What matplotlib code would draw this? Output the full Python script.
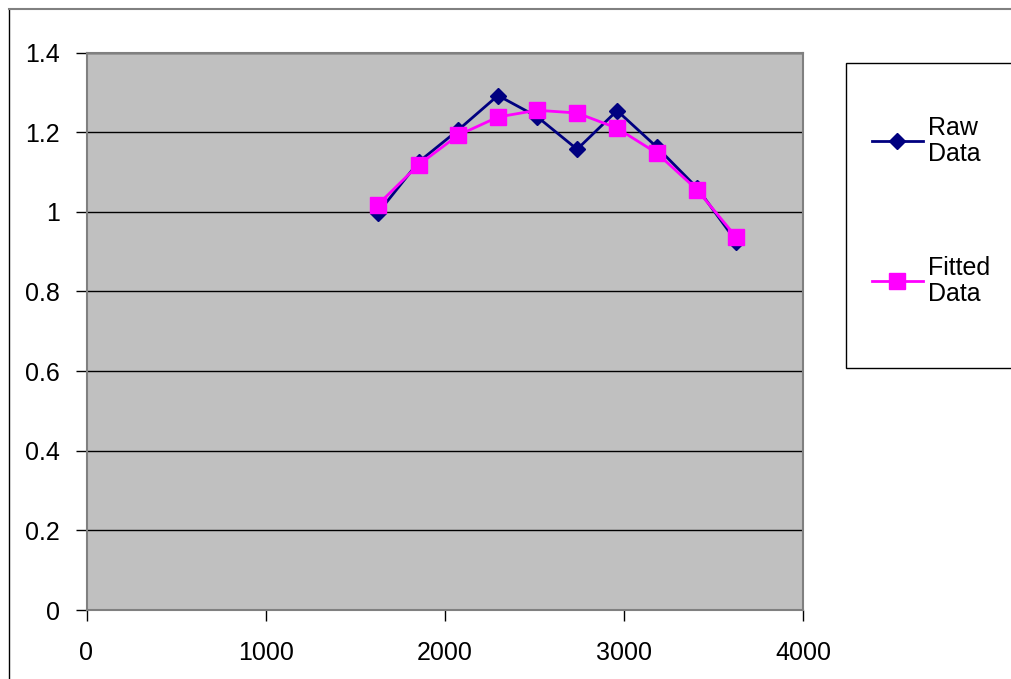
import matplotlib
matplotlib.use("Agg")
import matplotlib.pyplot as plt
from matplotlib.patches import Rectangle
from matplotlib.lines import Line2D

# values
x_vals = [1627, 1854, 2074, 2297, 2515, 2739, 2962, 3185, 3409, 3628]
raw_data = [0.997, 1.125, 1.205, 1.292, 1.239, 1.157, 1.254, 1.162, 1.06, 0.925]
fitted_data = [1.018, 1.118, 1.192, 1.238, 1.255, 1.248, 1.210, 1.147, 1.055, 0.936]
x_ticks = [0, 1000, 2000, 3000, 4000]
y_ticks = [0, 0.2, 0.4, 0.6, 0.8, 1.0, 1.2, 1.4]
y_labels = ["0", "0.2", "0.4", "0.6", "0.8", "1", "1.2", "1.4"]

plt.rcParams['font.family'] = ['Liberation Sans', 'DejaVu Sans']
FS = 18

W, H = 1012, 679
fig = plt.figure(figsize=(W / 100, H / 100), dpi=100)

# outer chart border (only left and top visible in the reference)
fig.add_artist(Line2D([9 / W, 9 / W], [0, 1 - 9 / H], transform=fig.transFigure,
                      color="black", lw=1))
fig.add_artist(Line2D([9 / W, 1], [1 - 9 / H, 1 - 9 / H], transform=fig.transFigure,
                      color="#808080", lw=1.5))

left, right, bottom, top = 86.5, 803, 610, 52.5
ax = fig.add_axes([left / W, (H - bottom) / H, (right - left) / W, (bottom - top) / H])
ax.set_facecolor("#C0C0C0")
ax.set_xlim(0, 4000)
ax.set_ylim(0, 1.4)
ax.set_xticks(x_ticks)
ax.set_yticks(y_ticks)
ax.set_yticklabels(y_labels)
ax.tick_params(axis="both", direction="out", length=8, width=1, colors="black",
               labelsize=FS)
ax.tick_params(axis="y", pad=11)
ax.tick_params(axis="x", pad=14)
ax.yaxis.grid(True, color="black", lw=1)
ax.set_axisbelow(True)
for s in ax.spines.values():
    s.set_color("#808080")
    s.set_linewidth(1.5)

ax.plot(x_vals, raw_data, color="#000080", lw=2, marker="D", ms=8,
        label="Raw\nData", zorder=3)
ax.plot(x_vals, fitted_data, color="#FF00FF", lw=2, marker="s", ms=11,
        label="Fitted\nData", zorder=4)

# legend box
fig.add_artist(Rectangle((846 / W, (H - 368) / H), (1020 - 846) / W, (368 - 62.5) / H,
                         transform=fig.transFigure, facecolor="white",
                         edgecolor="black", lw=1))
legend_items = [("Raw\nData", "#000080", "D", 8, 141),
                ("Fitted\nData", "#FF00FF", "s", 11, 281)]
for label, color, marker, ms, yc in legend_items:
    yf = (H - yc) / H
    fig.add_artist(Line2D([872 / W, 923 / W], [yf, yf], transform=fig.transFigure,
                          color=color, lw=2))
    fig.add_artist(Line2D([897.5 / W], [yf], transform=fig.transFigure,
                          color=color, marker=marker, ms=ms, lw=0))
    fig.text(928 / W, yf, label, fontsize=FS, va="center", ha="left",
             linespacing=1.15)

fig.savefig("out.png", dpi=100)
